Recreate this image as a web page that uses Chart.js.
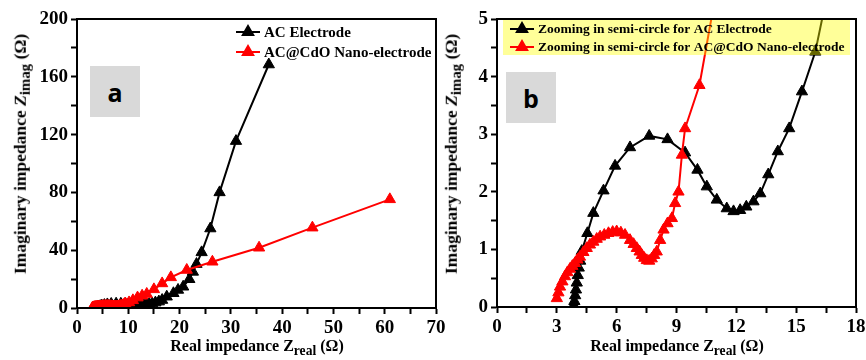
<!DOCTYPE html>
<html>
<head>
<meta charset="utf-8">
<script src="https://cdn.jsdelivr.net/npm/chart.js@4.4.1/dist/chart.umd.min.js"></script>
<style>
  body { margin: 0; background: #fff; }
  #wrap { position: relative; width: 866px; height: 360px; overflow: hidden; background: #fff; }
  canvas { position: absolute; top: 0; }
  #chartA { left: 0; }
  #chartB { left: 440px; }
  .tag { position: absolute; width: 50px; height: 51px; background: #d9d9d9; color: #000;
         font: bold 25px "Open Sans", sans-serif; display: flex; align-items: center; justify-content: center; }
  .xt, .yt { position: absolute; font-family: "Liberation Serif", "Times New Roman", serif; font-weight: bold;
             color: #000; white-space: nowrap; }
  .xt { font-size: 16px; transform: translateX(-50%); }
  .yt { font-size: 17.5px; transform: translate(-50%, -50%) rotate(-90deg); }
  sub { font-size: 85%; vertical-align: -0.3em; }
</style>
</head>
<body>
<div id="wrap">
  <canvas id="chartA" width="470" height="360"></canvas>
  <canvas id="chartB" width="450" height="360"></canvas>
  <div class="tag" style="left:90px;top:66px;">a</div>
  <div class="tag" style="left:506px;top:72px;">b</div>
  <div class="yt" style="left:22px;top:154px;">Imaginary impedance <i>Z</i><sub>imag</sub> (Ω)</div>
  <div class="yt" style="left:453px;top:154px;">Imaginary impedance <i>Z</i><sub>imag</sub> (Ω)</div>
  <div class="xt" style="left:257px;top:337px;">Real impedance Z<sub>real</sub> (Ω)</div>
  <div class="xt" style="left:677px;top:337px;">Real impedance Z<sub>real</sub> (Ω)</div>
</div>
<script>
// AC electrode (black)
const acReal = [3.85, 3.88, 3.92, 3.96, 4.0, 4.05, 4.1, 4.17, 4.25, 4.53, 4.83, 5.34, 5.92, 6.67, 7.63, 8.55, 9.43, 10.05,
  10.52, 11.02, 11.52, 11.86, 12.19, 12.5, 12.86, 13.2, 13.6, 14.08, 14.65, 15.29, 15.96, 16.6, 17.5, 18.8, 19.7, 20.7,
  21.9, 22.6, 23.3, 24.3, 26.0, 27.8, 31.0, 37.4];
const acImag = [0.03, 0.1, 0.2, 0.3, 0.42, 0.55, 0.68, 0.8, 0.97, 1.28, 1.63, 2.02, 2.45, 2.77, 2.97, 2.91, 2.68, 2.38,
  2.09, 1.86, 1.71, 1.66, 1.68, 1.74, 1.83, 1.97, 2.3, 2.7, 3.1, 3.74, 4.43, 5.5, 7.8, 10.2, 12.5, 14.7,
  19.9, 25.0, 30.4, 38.5, 55.0, 80.0, 115.5, 168.5];

// AC@CdO nano-electrode (red)
const cdoReal = [3.0, 3.08, 3.16, 3.28, 3.41, 3.53, 3.66, 3.78, 3.91, 4.03, 4.16, 4.33, 4.5, 4.66, 4.83, 5.0, 5.17, 5.38,
  5.59, 5.8, 6.0, 6.21, 6.42, 6.67, 6.85, 7.01, 7.15, 7.26, 7.38, 7.51, 7.63, 7.76, 7.88, 8.01, 8.18, 8.35, 8.55, 8.77,
  8.93, 9.1, 9.27, 9.43, 10.15, 10.9, 11.8, 12.7, 13.6, 15.0, 16.6, 18.3, 21.4, 26.4, 35.5, 45.9, 61.0];
const cdoImag = [0.15, 0.25, 0.35, 0.44, 0.53, 0.6, 0.66, 0.71, 0.76, 0.82, 0.87, 0.95, 1.02, 1.08, 1.13, 1.18, 1.22, 1.25,
  1.28, 1.3, 1.31, 1.29, 1.25, 1.16, 1.09, 1.02, 0.96, 0.9, 0.85, 0.81, 0.8, 0.84, 0.9, 0.96, 1.16, 1.34, 1.45, 1.54,
  1.8, 2.0, 2.64, 3.1, 3.85, 5.3, 7.2, 8.5, 9.7, 12.9, 17.0, 21.2, 26.3, 32.0, 41.7, 55.6, 75.2];

// tick labels
const xTicksA = [0, 10, 20, 30, 40, 50, 60, 70];
const yTicksA = [0, 40, 80, 120, 160, 200];
const xTicksB = [0, 3, 6, 9, 12, 15, 18];
const yTicksB = [0, 1, 2, 3, 4, 5];

// legend texts
const legendA = ['AC Electrode', 'AC@CdO Nano-electrode'];
const legendB = ['Zooming in semi-circle for AC Electrode', 'Zooming in semi-circle for AC@CdO Nano-electrode'];

const serif = '"Liberation Serif", "Times New Roman", serif';

const app = {

    points: function(xs, ys) {
        return xs.map((x, i) => ({ x: x, y: ys[i] }));
    },

    // major ticks + one minor tick between each pair
    withMinor: function(major) {
        const t = [];
        major.forEach((v, i) => {
            t.push({ value: v });
            if (i < major.length - 1) t.push({ value: (v + major[i + 1]) / 2 });
        });
        return t;
    },

    axis: function(major, size) {
        const self = this;
        return {
            type: 'linear',
            min: major[0],
            max: major[major.length - 1],
            afterBuildTicks: s => { s.ticks = self.withMinor(major); },
            afterFit: s => { if (s.isHorizontal()) s.height = size; else s.width = size; },
            ticks: {
                autoSkip: false,
                maxRotation: 0,
                padding: 3,
                color: '#000',
                font: { family: serif, weight: 'bold', size: 19 },
                callback: v => major.includes(v) ? v : ''
            },
            grid: { drawOnChartArea: false, drawTicks: true, tickLength: 6, tickColor: '#000', tickWidth: 2 },
            border: { display: true, color: '#000', width: 2 }
        };
    },

    // frame + legend drawn inside the plot area
    panelPlugin: {
        id: 'panel',
        afterDatasetsDraw: function(chart, args, o) {
            const ctx = chart.ctx;
            const a = chart.chartArea;
            ctx.save();
            if (o.box) {
                ctx.fillStyle = 'rgba(255, 255, 0, 0.4)';
                ctx.fillRect(o.box[0], o.box[1], o.box[2], o.box[3]);
            }
            chart.data.datasets.forEach((ds, i) => {
                const y = o.y[i];
                ctx.strokeStyle = ds.borderColor;
                ctx.fillStyle = ds.backgroundColor;
                ctx.lineWidth = 2;
                ctx.beginPath();
                ctx.moveTo(o.x - 12, y);
                ctx.lineTo(o.x + 12, y);
                ctx.stroke();
                Chart.helpers.drawPoint(ctx, { pointStyle: 'triangle', radius: 6, borderWidth: 1, rotation: 0 }, o.x, y);
                ctx.fillStyle = '#000';
                ctx.font = 'bold ' + o.size + 'px ' + serif;
                ctx.textBaseline = 'middle';
                ctx.fillText(ds.label, o.x + 16, y + 1);
            });
            ctx.strokeStyle = '#000';
            ctx.lineWidth = 2;
            ctx.strokeRect(a.left, a.top, a.right - a.left, a.bottom - a.top);
            ctx.restore();
        }
    },

    makeChart: function(id, labels, xTicks, yTicks, yWidth, xHeight, padRight, legendOpts) {
        const ds = (label, xs, ys, color, order) => ({
            label: label,
            data: this.points(xs, ys),
            showLine: true,
            borderColor: color,
            backgroundColor: color,
            borderWidth: 2,
            pointStyle: 'triangle',
            pointRadius: 6.5,
            pointBorderWidth: 1,
            order: order
        });
        return new Chart(document.getElementById(id), {
            type: 'scatter',
            data: {
                datasets: [
                    ds(labels[0], acReal, acImag, '#000000', 1),
                    ds(labels[1], cdoReal, cdoImag, '#ff0000', 0)
                ]
            },
            options: {
                responsive: false,
                animation: false,
                devicePixelRatio: 1,
                layout: { padding: { left: 0, top: 19, right: padRight, bottom: 0 } },
                scales: {
                    x: this.axis(xTicks, xHeight),
                    y: this.axis(yTicks, yWidth)
                },
                plugins: {
                    legend: { display: false },
                    tooltip: { enabled: false },
                    panel: legendOpts
                }
            },
            plugins: [this.panelPlugin]
        });
    },

    start: function() {
        this.makeChart('chartA', legendA, xTicksA, yTicksA, 77, 52, 34,
            { x: 248, y: [32, 52], size: 15 });
        this.makeChart('chartB', legendB, xTicksB, yTicksB, 57, 53, 34,
            { x: 82, y: [29, 47], size: 13.5, box: [63, 19, 347, 36] });
    }
};

app.start();
</script>
</body>
</html>
